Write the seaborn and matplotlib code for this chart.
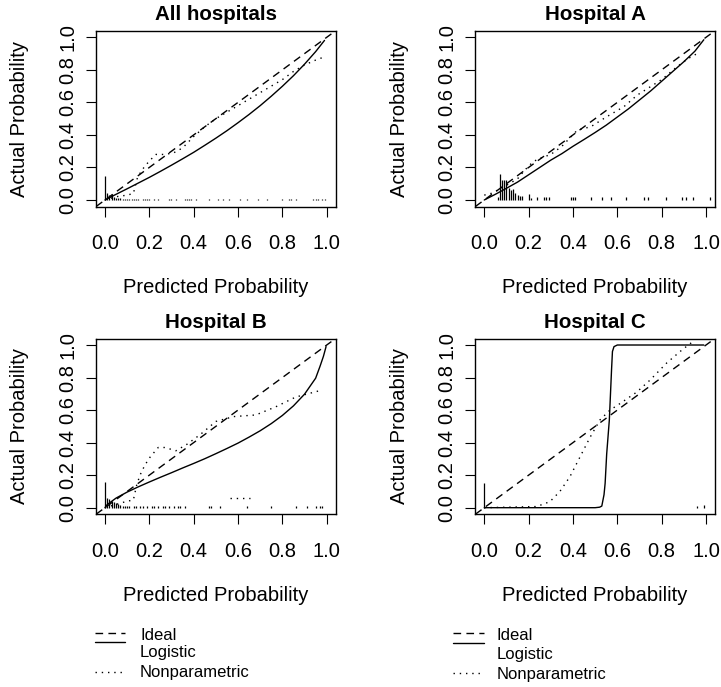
import matplotlib
matplotlib.use("Agg")
import matplotlib.pyplot as plt
from matplotlib.lines import Line2D
import seaborn as sns

titles = ["All hospitals", "Hospital A", "Hospital B", "Hospital C"]
tick_vals = [0.0, 0.2, 0.4, 0.6, 0.8, 1.0]
tick_labels = ["0.0", "0.2", "0.4", "0.6", "0.8", "1.0"]
legend_labels = ["Ideal", "Logistic", "Nonparametric"]

# logistic calibration curves
all_logit_x = [0.0, 0.01, 0.05, 0.1, 0.15, 0.2, 0.25, 0.3, 0.35, 0.4, 0.45, 0.5,
               0.55, 0.6, 0.65, 0.7, 0.75, 0.8, 0.85, 0.9, 0.95, 0.99]
all_logit_y = [0.0, 0.007, 0.035, 0.069, 0.104, 0.139, 0.176, 0.214, 0.253, 0.293, 0.336, 0.38,
               0.426, 0.475, 0.526, 0.58, 0.638, 0.699, 0.764, 0.835, 0.912, 0.981]
a_logit_x = [0.0, 0.05, 0.1, 0.15, 0.2, 0.25, 0.3, 0.35, 0.4, 0.45, 0.5,
             0.55, 0.6, 0.65, 0.7, 0.75, 0.8, 0.85, 0.9, 0.95, 0.99]
a_logit_y = [0.0, 0.035, 0.072, 0.11, 0.155, 0.2, 0.245, 0.285, 0.33, 0.372, 0.415,
             0.46, 0.51, 0.56, 0.615, 0.67, 0.73, 0.79, 0.85, 0.915, 0.985]
b_logit_x = [0.0, 0.01, 0.05, 0.1, 0.15, 0.2, 0.25, 0.3, 0.35, 0.4, 0.45, 0.5, 0.55, 0.6,
             0.65, 0.7, 0.75, 0.8, 0.85, 0.9, 0.95, 0.97, 0.985, 0.997]
b_logit_y = [0.0, 0.019, 0.059, 0.096, 0.128, 0.158, 0.187, 0.215, 0.244, 0.272, 0.301, 0.332, 0.364, 0.397,
             0.434, 0.473, 0.517, 0.567, 0.626, 0.698, 0.796, 0.87, 0.93, 0.99]
c_logit_x = [0.0, 0.5, 0.52, 0.53, 0.54, 0.545, 0.552, 0.564, 0.574, 0.578, 0.585, 0.6, 0.99]
c_logit_y = [0.0, 0.0, 0.003, 0.01, 0.08, 0.15, 0.33, 0.54, 0.85, 0.96, 0.99, 1.0, 1.0]

# nonparametric (lowess) curves
all_np_x = [0.0, 0.05, 0.1, 0.128, 0.147, 0.17, 0.2, 0.23, 0.27, 0.31, 0.35, 0.4, 0.45, 0.5,
            0.55, 0.6, 0.65, 0.7, 0.75, 0.8, 0.85, 0.9, 0.95, 0.99]
all_np_y = [0.0, 0.02, 0.03, 0.04, 0.14, 0.19, 0.24, 0.28, 0.28, 0.29, 0.32, 0.39, 0.45, 0.5,
            0.54, 0.58, 0.62, 0.66, 0.7, 0.74, 0.79, 0.83, 0.86, 0.88]
a_np_x = [0.0, 0.03, 0.06, 0.1, 0.15, 0.18, 0.22, 0.25, 0.3, 0.35, 0.42, 0.48, 0.55, 0.63,
          0.69, 0.75, 0.8, 0.87, 0.92, 0.96]
a_np_y = [0.03, 0.04, 0.06, 0.09, 0.13, 0.18, 0.235, 0.256, 0.28, 0.33, 0.43, 0.45, 0.51, 0.574,
          0.645, 0.697, 0.74, 0.82, 0.87, 0.9]
b_np_x = [0.0, 0.05, 0.1, 0.128, 0.143, 0.158, 0.18, 0.203, 0.24, 0.27, 0.32, 0.37, 0.43, 0.5,
          0.58, 0.68, 0.77, 0.86, 0.97]
b_np_y = [0.0, 0.02, 0.04, 0.047, 0.139, 0.2, 0.262, 0.31, 0.37, 0.37, 0.35, 0.39, 0.45, 0.53,
          0.56, 0.57, 0.62, 0.68, 0.72]
c_np_x = [0.0, 0.236, 0.296, 0.341, 0.386, 0.431, 0.476, 0.522, 0.567, 0.612, 0.687, 0.748,
          0.823, 0.883, 0.92, 0.95]
c_np_y = [0.0, 0.007, 0.037, 0.1, 0.19, 0.31, 0.43, 0.54, 0.6, 0.64, 0.71, 0.785,
          0.89, 0.96, 1.0, 1.03]
b_np_extra_x = [0.565, 0.655]
b_np_extra_y = [0.058, 0.058]

# spike histograms of predicted risk
all_rug_x = [0.0, 0.01, 0.02, 0.03, 0.04, 0.05, 0.06, 0.07, 0.08, 0.09, 0.1, 0.11, 0.12, 0.13, 0.14,
             0.15, 0.17, 0.18, 0.19, 0.2, 0.22, 0.24, 0.29, 0.3, 0.32, 0.36, 0.37, 0.38, 0.39,
             0.41, 0.47, 0.51, 0.53, 0.56, 0.61, 0.64, 0.69, 0.73, 0.8, 0.83, 0.84, 0.86,
             0.94, 0.95, 0.96, 0.98, 0.99]
all_rug_h = [0.15, 0.04, 0.03, 0.035, 0.02, 0.012, 0.01, 0.01, 0.008, 0.008, 0.008, 0.008, 0.008, 0.008, 0.008,
             0.008, 0.008, 0.008, 0.008, 0.008, 0.008, 0.008, 0.008, 0.008, 0.008, 0.008, 0.008, 0.008, 0.008,
             0.008, 0.008, 0.008, 0.008, 0.008, 0.008, 0.008, 0.008, 0.008, 0.008, 0.008, 0.008, 0.008,
             0.008, 0.008, 0.008, 0.008, 0.008]
a_rug_x = [0.06, 0.07, 0.08, 0.09, 0.1, 0.11, 0.12, 0.13, 0.14, 0.15, 0.16, 0.17, 0.2, 0.21, 0.24,
           0.27, 0.28, 0.29, 0.39, 0.4, 0.41, 0.48, 0.53, 0.57, 0.64, 0.72, 0.74, 0.82, 0.89,
           0.91, 0.94, 1.02]
a_rug_h = [0.02, 0.16, 0.12, 0.12, 0.12, 0.075, 0.06, 0.065, 0.04, 0.03, 0.025, 0.025, 0.035, 0.015, 0.02,
           0.02, 0.02, 0.02, 0.02, 0.02, 0.02, 0.02, 0.02, 0.02, 0.02, 0.02, 0.02, 0.02, 0.02,
           0.02, 0.02, 0.02]
b_rug_x = [0.0, 0.01, 0.02, 0.03, 0.04, 0.05, 0.06, 0.07, 0.08, 0.09, 0.1, 0.11, 0.13, 0.14, 0.16,
           0.17, 0.19, 0.21, 0.22, 0.24, 0.26, 0.27, 0.29, 0.31, 0.33, 0.34, 0.36, 0.47, 0.48,
           0.52, 0.64, 0.75, 0.86, 0.91, 0.95, 0.97, 0.98]
b_rug_h = [0.155, 0.06, 0.055, 0.04, 0.035, 0.03, 0.02, 0.015, 0.012, 0.01, 0.01, 0.008, 0.008, 0.008, 0.008,
           0.008, 0.008, 0.008, 0.008, 0.008, 0.008, 0.008, 0.008, 0.008, 0.008, 0.008, 0.008, 0.008, 0.008,
           0.008, 0.008, 0.008, 0.008, 0.008, 0.008, 0.008, 0.008]
c_rug_x = [0.0, 0.96, 0.99]
c_rug_h = [0.15, 0.01, 0.015]

sns.set_style("ticks")
plt.rcParams["font.family"] = ["Liberation Sans", "DejaVu Sans"]
plt.rcParams["text.color"] = "black"
plt.rcParams["axes.labelcolor"] = "black"
plt.rcParams["xtick.color"] = "black"
plt.rcParams["ytick.color"] = "black"

W, H = 721, 687
fig = plt.figure(figsize=(W / 100, H / 100), dpi=100)

# panel boxes in pixels: left, top
box_w, box_h = 239.5, 175.7
corners = [(96.1, 30.8), (475.4, 30.8), (96.1, 338.5), (475.4, 338.5)]

panels = [
    (all_logit_x, all_logit_y, all_np_x, all_np_y, all_rug_x, all_rug_h),
    (a_logit_x, a_logit_y, a_np_x, a_np_y, a_rug_x, a_rug_h),
    (b_logit_x, b_logit_y, b_np_x, b_np_y, b_rug_x, b_rug_h),
    (c_logit_x, c_logit_y, c_np_x, c_np_y, c_rug_x, c_rug_h),
]

dash = (0, (5.5, 3.8))
dot = (0, (1, 3.5))

for i, (title, (lx, ly, nx, ny, rx, rh)) in enumerate(zip(titles, panels)):
    left, top = corners[i]
    ax = fig.add_axes([left / W, 1 - (top + box_h) / H, box_w / W, box_h / H])
    ax.axline((0, 0), slope=1, color="black", lw=1.0, linestyle=dash)
    sns.lineplot(x=lx, y=ly, ax=ax, color="black", lw=1.0, estimator=None, sort=False)
    sns.lineplot(x=nx, y=ny, ax=ax, color="black", lw=1.0, linestyle=dot,
                 estimator=None, sort=False)
    if i == 2:
        sns.lineplot(x=b_np_extra_x, y=b_np_extra_y, ax=ax, color="black", lw=1.0,
                     linestyle=dot, estimator=None, sort=False)
    ax.vlines(rx, 0, rh, color="black", lw=0.9)

    ax.set_xlim(-0.04, 1.04)
    ax.set_ylim(-0.04, 1.04)
    ax.set_xticks(tick_vals)
    ax.set_xticklabels(tick_labels, fontsize=14.5)
    ax.set_yticks(tick_vals)
    ax.set_yticklabels(tick_labels, fontsize=14.5, rotation=90, va="center")
    ax.tick_params(axis="both", direction="out", length=7.2, width=0.8, color="black")
    ax.tick_params(axis="x", pad=12.5)
    ax.tick_params(axis="y", pad=6.3)
    for s in ax.spines.values():
        s.set_linewidth(1.0)
        s.set_color("black")

    # label / title offsets measured from the box, same for every panel
    ax.set_xlabel("Predicted Probability", fontsize=14.5, va="center")
    ax.xaxis.set_label_coords(0.5, -81.0 / box_h)
    ax.set_ylabel("Actual Probability", fontsize=14.5, va="center")
    ax.yaxis.set_label_coords(-76.1 / box_w, 0.5)
    ax.set_title(title, fontsize=14.8, fontweight="bold", va="center",
                 y=1 + 16.3 / box_h, pad=0)

# legends under the bottom row
legend_specs = [
    # line x0, x1, text x, line ys, text ys
    (95, 125, 140, [632.7, 641.7, 671.7], [636, 653, 673]),
    (453, 484, 497, [633.3, 643.3, 673.3], [636, 654.5, 674.5]),
]
styles = [dash, "-", dot]
for x0, x1, tx, lys, tys in legend_specs:
    for lab, st, ly_, ty in zip(legend_labels, styles, lys, tys):
        fig.add_artist(Line2D([x0 / W, x1 / W], [1 - ly_ / H, 1 - ly_ / H],
                              transform=fig.transFigure, color="black", lw=1.0, linestyle=st))
        fig.text(tx / W, 1 - ty / H, lab, fontsize=12, va="center", ha="left")

fig.savefig("out.png", dpi=100)
